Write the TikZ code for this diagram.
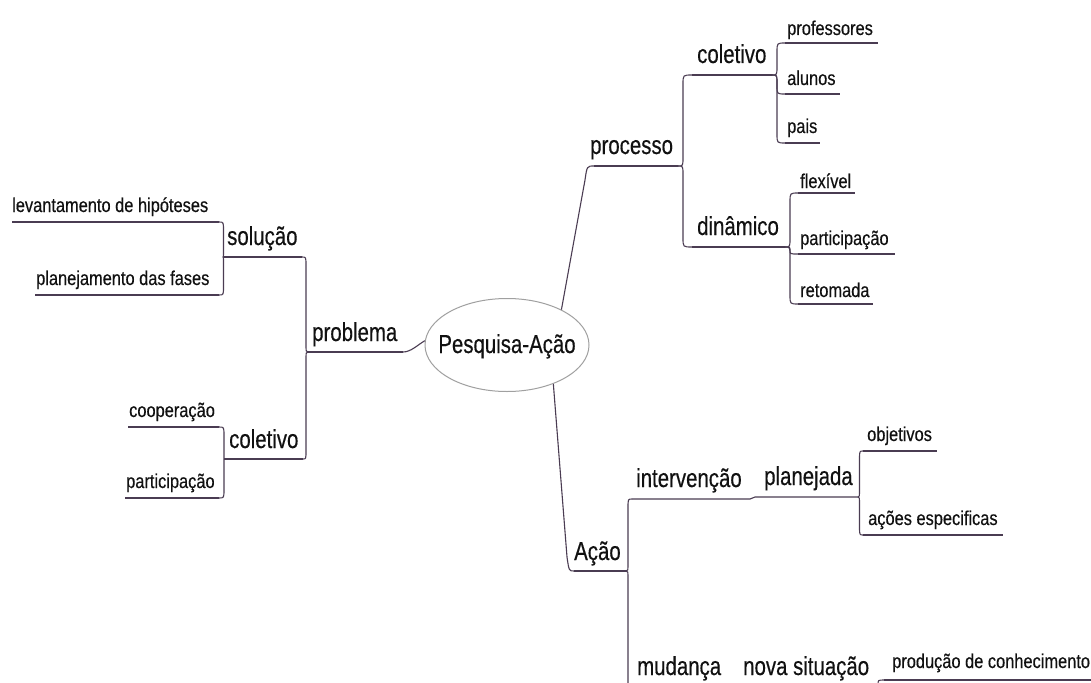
\documentclass[tikz,border=0pt]{standalone}
\usepackage{fontspec}
\setmainfont{Liberation Sans}[FakeStretch=0.82]
\newfontfamily\bigfam{Liberation Sans}[FakeStretch=0.785, FakeBold=0.35]
\newfontfamily\smallfam{Liberation Sans}[FakeStretch=0.82, FakeBold=0.35]
\usetikzlibrary{calc,shapes.geometric}
\definecolor{ln}{HTML}{4A3C52}
\definecolor{ell}{HTML}{A0A0A0}
\definecolor{txt}{HTML}{111111}
% #1 junction, #2 child line end, #3 x offset of the vertical, #4 signed corner radius (+ = child below)
\newcommand\mmbranch[4]{\draw[conn] (#1) .. controls ($(#1)+(#3,0)$) .. ($(#1)+(#3,#4)$) -- ($(#2 -| #1)+(#3,{-1*(#4)})$) .. controls ($(#2 -| #1)+(#3,0)$) .. (#2);}
\begin{document}
\begin{tikzpicture}[x=1pt,y=-1pt,
  conn/.style={draw=ln, line width=1.1pt},
  bigfont/.style={font=\bigfam\fontsize{26}{30}\selectfont},
  big/.style={anchor=base west, inner sep=0pt, text=txt, bigfont},
  small/.style={anchor=base west, inner sep=0pt, text=txt, font=\smallfam\fontsize{20}{24}\selectfont}]
\useasboundingbox (0,0) rectangle (1091,682);
\clip (0,0) rectangle (1091,682);
\fill[white] (0,0) rectangle (1091,682);

% root
\node[ellipse, draw=ell, line width=1pt, minimum width=164pt, minimum height=93pt, inner sep=0pt,
  label={[bigfont, text=txt, inner sep=0pt, text height=19pt, text depth=3pt]center:Pesquisa-Ação}] (root) at (507,345) {};

% texts - big
\node[big] (proc) at (590,154) {processo};
\node[big] (colR) at (697,63) {coletivo};
\node[big] (din) at (697,235) {dinâmico};
\node[big] (sol) at (227,245) {solução};
\node[big] (prob) at (312,341) {problema};
\node[big] (colL) at (229,448) {coletivo};
\node[big] (acao) at (574,560) {Ação};
\node[big] (interv) at (636,487) {intervenção};
\node[big] (plan) at (764,485) {planejada};
\node[big] (mud) at (637,675) {mudança};
\node[big] (nova) at (743,675) {nova situação};

% texts - small
\node[small] (prof) at (787,35) {professores};
\node[small] (alu) at (787,85) {alunos};
\node[small] (pais) at (787,133) {pais};
\node[small] (flex) at (800,188) {flexível};
\node[small] (partR) at (800,245) {participação};
\node[small] (ret) at (800,297) {retomada};
\node[small] (lev) at (12,212) {levantamento de hipóteses};
\node[small] (planf) at (36,285) {planejamento das fases};
\node[small] (coop) at (129,417) {cooperação};
\node[small] (partL) at (126,488) {participação};
\node[small] (obj) at (867,441) {objetivos};
\node[small] (acoes) at (868,525) {ações especificas};
\node[small] (prod) at (892,668) {produção de conhecimento};

% underline coordinates
\coordinate (procL) at (594,166); \coordinate (procR) at (678,166);
\coordinate (colRL) at (692,75); \coordinate (colRR) at (772,75);
\coordinate (dinL) at (692,247); \coordinate (dinR) at (785,247);
\coordinate (profL) at (785,43); \coordinate (profR) at (878,43);
\coordinate (aluL) at (785,94); \coordinate (aluR) at (840,94);
\coordinate (paisL) at (785,143); \coordinate (paisR) at (820,143);
\coordinate (flexL) at (798,193); \coordinate (flexR) at (855,193);
\coordinate (partRL) at (798,254); \coordinate (partRR) at (895,254);
\coordinate (retL) at (798,304); \coordinate (retR) at (873,304);
\coordinate (probL) at (308,352); \coordinate (probR) at (403,352);
\coordinate (solL) at (223,257); \coordinate (solR) at (302,257);
\coordinate (colLL) at (224,459); \coordinate (colLR) at (303,459);
\coordinate (levL) at (12,222); \coordinate (levR) at (219,222);
\coordinate (planfL) at (35,295); \coordinate (planfR) at (219,295);
\coordinate (coopL) at (128,427); \coordinate (coopR) at (219,427);
\coordinate (partLL) at (125,498); \coordinate (partLR) at (219,498);
\coordinate (acaoL) at (574,571); \coordinate (acaoR) at (626,571);
\coordinate (intL) at (632,499); \coordinate (intR) at (750,499);
\coordinate (planL) at (755,497); \coordinate (planR) at (858,497);
\coordinate (objL) at (863,451); \coordinate (objR) at (937,451);
\coordinate (acoesL) at (863,535); \coordinate (acoesR) at (1003,535);
\coordinate (mudL) at (632,690); \coordinate (mudR) at (722,690);
\coordinate (novaL) at (726,690); \coordinate (novaR) at (872,690);
\coordinate (prodL) at (884,680); \coordinate (prodR) at (1095,680);

% underlines
\foreach \a/\b in {procL/procR, colRL/colRR, dinL/dinR, profL/profR, aluL/aluR, paisL/paisR,
  flexL/flexR, partRL/partRR, retL/retR, probL/probR, solL/solR, colLL/colLR, levL/levR,
  planfL/planfR, coopL/coopR, partLL/partLR, acaoL/acaoR, objL/objR, acoesL/acoesR, prodL/prodR}
  \draw[conn] (\a) -- (\b);
\draw[conn] (intL) -- (intR) .. controls +(3,0) and +(-3,0) .. (planL) -- (planR);
\draw[conn] (mudL) -- (mudR) .. controls +(2,0) and +(-2,0) .. (novaL) -- (novaR);

% connectors from the root
\draw[conn] (root.33) -- ($(procL)+(-9,14)$) .. controls ($(procL)+(-7,0)$) .. (procL);
\draw[conn] (root.177) .. controls +(-7,4) and +(8,0) .. (probR);
\draw[conn] (root.-40) -- ($(acaoL)+(-7,-14)$) .. controls ($(acaoL)+(-5,0)$) .. (acaoL);

% branches
\mmbranch{procR}{colRL}{5}{-9}
\mmbranch{procR}{dinL}{5}{9}
\mmbranch{colRR}{profL}{5}{-9}
\mmbranch{colRR}{aluL}{5}{8}
\mmbranch{colRR}{paisL}{5}{9}
\mmbranch{dinR}{flexL}{5}{-9}
\mmbranch{dinR}{partRL}{5}{3.5}
\mmbranch{dinR}{retL}{5}{9}
\mmbranch{probL}{solR}{-2}{-9}
\mmbranch{probL}{colLR}{-2}{9}
\mmbranch{solL}{levR}{0.5}{-9}
\mmbranch{solL}{planfR}{0.5}{9}
\mmbranch{colLL}{coopR}{0}{-9}
\mmbranch{colLL}{partLR}{0}{9}
\mmbranch{acaoR}{intL}{2}{-9}
\mmbranch{acaoR}{mudL}{2}{9}
\mmbranch{planR}{objL}{1.5}{-9}
\mmbranch{planR}{acoesL}{1.5}{9}
\mmbranch{novaR}{prodL}{6}{-5}
\end{tikzpicture}
\end{document}
